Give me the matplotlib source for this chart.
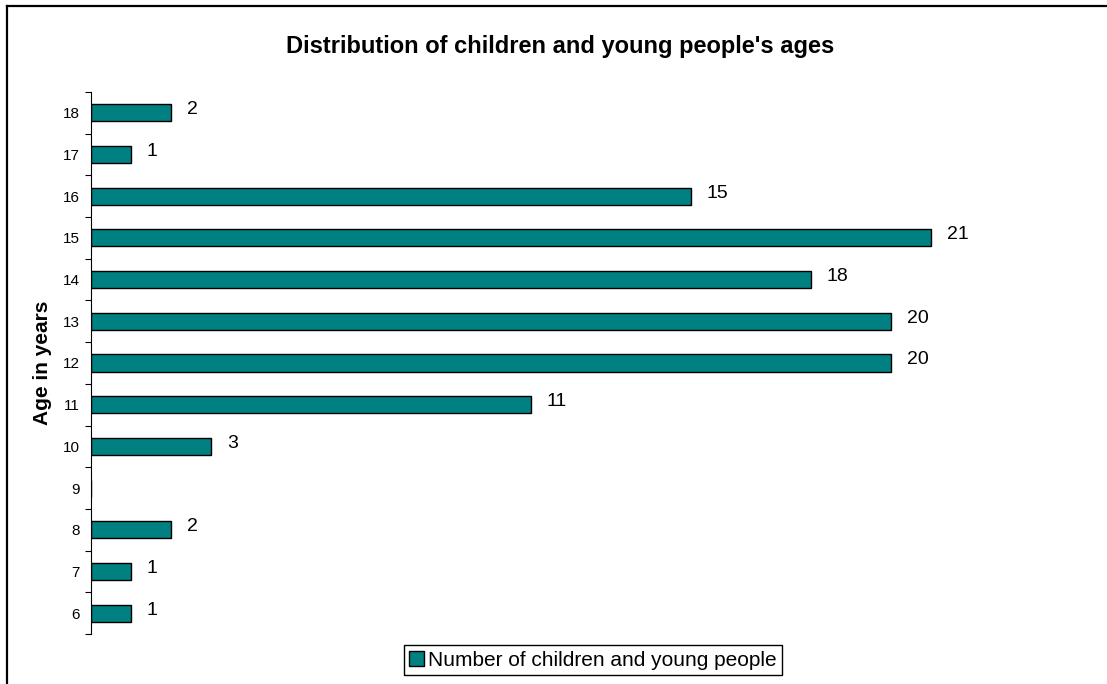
import matplotlib.pyplot as plt
from matplotlib.lines import Line2D
from matplotlib.patches import Patch

ages = [6, 7, 8, 9, 10, 11, 12, 13, 14, 15, 16, 17, 18]
counts = [1, 1, 2, 0, 3, 11, 20, 20, 18, 21, 15, 1, 2]
labels = ["1", "1", "2", "", "3", "11", "20", "20", "18", "21", "15", "1", "2"]
series_name = "Number of children and young people"
title = "Distribution of children and young people's ages"
ylabel = "Age in years"

W, H = 1107, 684
plt.rcParams["font.family"] = ["Liberation Sans", "DejaVu Sans"]
fig = plt.figure(figsize=(W / 100, H / 100), dpi=100, facecolor="white")

# plot area in pixels
left, right, top, bottom = 91, 1091, 92, 634
ax = fig.add_axes([left / W, 1 - bottom / H, (right - left) / W, (bottom - top) / H])

pos = list(range(len(ages)))
ax.barh(pos, counts, height=0.41, color="#008080", edgecolor="black", linewidth=1.0)
for p, c, lab in zip(pos, counts, labels):
    if lab:
        ax.annotate(lab, (c, p), xytext=(16, 3), textcoords="offset pixels",
                    ha="left", va="center", fontsize=14)

ax.set_xlim(0, 25)
ax.set_ylim(-0.5, len(ages) - 0.5)
ax.set_yticks(pos)
ax.set_yticklabels([str(a) for a in ages], fontsize=11)
ax.set_yticks([p - 0.5 for p in pos] + [len(ages) - 0.5], minor=True)
ax.tick_params(axis="y", which="major", length=0, pad=8)
ax.tick_params(axis="y", which="minor", length=4, width=0.8, direction="out")
ax.set_xticks([])
for s in ["top", "right", "bottom"]:
    ax.spines[s].set_visible(False)
ax.spines["left"].set_linewidth(0.8)

fig.text(560 / W, 1 - 47 / H, title, ha="center", va="center",
         fontsize=17, fontweight="bold")
fig.text(43 / W, 1 - 363 / H, ylabel, ha="center", va="center",
         rotation=90, fontsize=15, fontweight="bold")

handle = Patch(facecolor="#008080", edgecolor="black", linewidth=1.0)
fig.legend([handle], [series_name], loc="center",
           bbox_to_anchor=(593 / W, 1 - 660 / H), fontsize=15,
           fancybox=False, edgecolor="black", framealpha=1,
           handlelength=0.7, handleheight=0.7, handletextpad=0.2,
           borderpad=0.25, borderaxespad=0)

# outer chart border (left and top edges visible)
fig.add_artist(Line2D([6.5 / W, 6.5 / W], [0, 1 - 5.5 / H], color="black",
                      linewidth=1.6, transform=fig.transFigure))
fig.add_artist(Line2D([6.5 / W, 1], [1 - 5.5 / H, 1 - 5.5 / H], color="black",
                      linewidth=1.6, transform=fig.transFigure))

fig.savefig("out.png", dpi=100, facecolor="white")
